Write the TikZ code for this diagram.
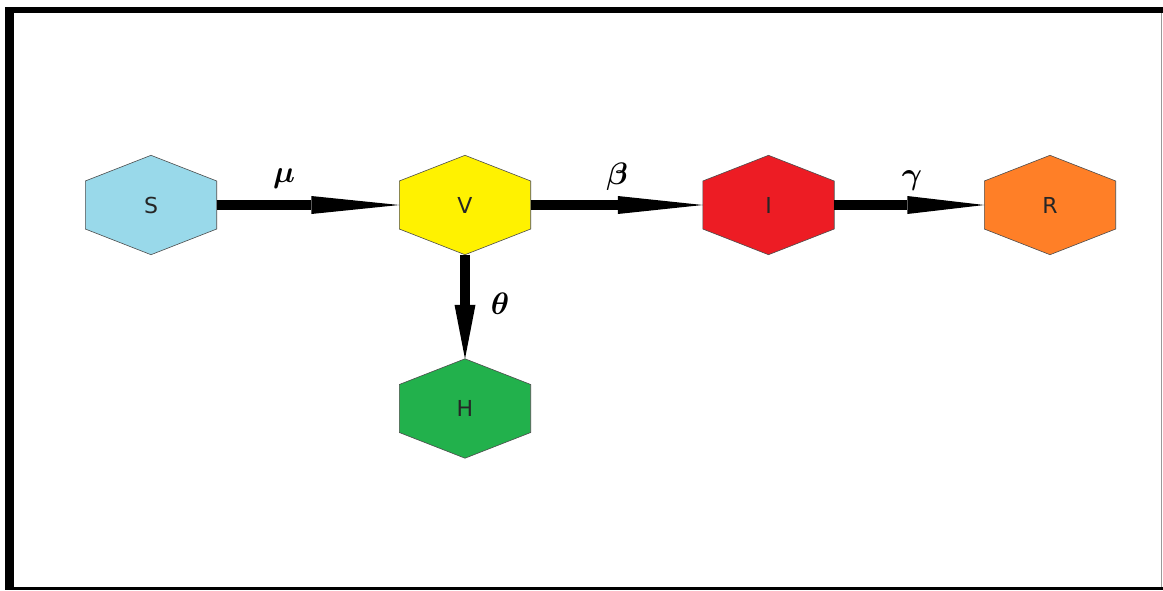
\RequirePackage{fix-cm}
\documentclass[tikz,border=0pt]{standalone}
\usepackage{amsmath,bm}
\usepackage{fontspec}
\newfontfamily\nodefont{DejaVu Sans}
\usetikzlibrary{arrows.meta,backgrounds,calc}
\definecolor{sblue}{HTML}{99D9EA}
\definecolor{vyellow}{HTML}{FFF200}
\definecolor{ired}{HTML}{ED1C24}
\definecolor{rorange}{HTML}{FF7F27}
\definecolor{hgreen}{HTML}{22B14C}
\begin{document}
\begin{tikzpicture}[x=1pt,y=-1pt,
  comp/.style={minimum width=131pt, minimum height=99pt, inner sep=0pt,
    font=\nodefont\fontsize{22}{24}\selectfont, text=black!85},
  flow/.style={line width=9.5pt},
  rate/.style={font=\fontsize{31}{33}\selectfont}]
\useasboundingbox (0,0) rectangle (1163,590);
% compartments
\node[comp] (S) at (151,205) {S};
\node[comp] (V) at (465,205) {V};
\node[comp] (I) at (768.5,205) {I};
\node[comp] (R) at (1050,205) {R};
\node[comp] (H) at (465,408.5) {H};
\begin{scope}[on background layer]
\fill[white] (0,0) rectangle (1163,590);
\foreach \n/\c in {S/sblue,V/vyellow,I/ired,R/rorange,H/hgreen}
  \filldraw[fill=\c, draw=black!70, line width=0.6pt]
    (\n.north) -- ([yshift=24pt]\n.east) -- ([yshift=-24pt]\n.east)
    -- (\n.south) -- ([yshift=-24pt]\n.west) -- ([yshift=24pt]\n.west) -- cycle;
\end{scope}
% frame
\draw[line width=6pt] (5,10) -- (1163,10);
\draw[line width=9pt] (9.5,7) -- (9.5,590);
\draw[line width=3pt] (5,588.5) -- (1163,588.5);
\draw[black!40, line width=1.5pt] (1161.5,13) -- (1161.5,587);
% flows
\draw[flow, -{Triangle[length=88pt,width=18pt,line width=0pt]}] (S.east) -- (V.west);
\draw[flow, -{Triangle[length=85pt,width=18pt,line width=0pt]}] (V.east) -- (I.west);
\draw[flow, -{Triangle[length=77pt,width=18pt,line width=0pt]}] (I.east) -- (R.west);
\draw[flow, -{Triangle[length=54pt,width=21pt,line width=0pt]}] (V.south) -- (H.north);
% rates
\node[rate] (mu) at (284,179) {$\bm{\mu}$};
\node[rate] (beta) at (617,177) {$\bm{\beta}$};
\node[rate] (gamma) at (912,181) {$\bm{\gamma}$};
\node[rate] (theta) at (500,304) {$\bm{\theta}$};
\end{tikzpicture}
\end{document}
